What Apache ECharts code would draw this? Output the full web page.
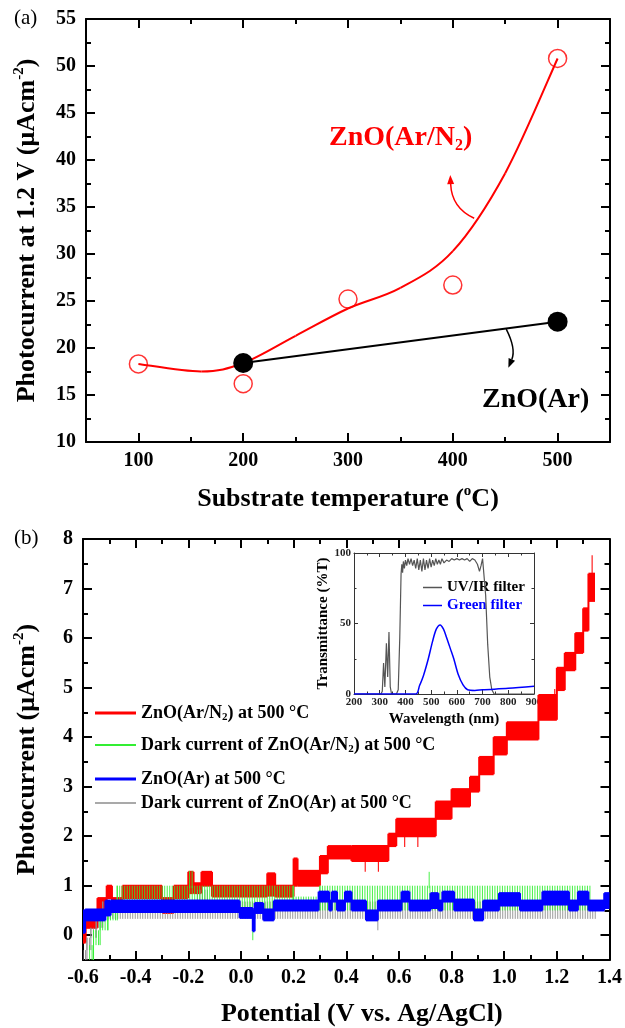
<!DOCTYPE html>
<html>
<head>
<meta charset="utf-8">
<script src="https://cdn.jsdelivr.net/npm/echarts@6/dist/echarts.min.js"></script>
<style>
  html, body { margin: 0; padding: 0; background: #fff; }
  #main { width: 625px; height: 1028px; }
</style>
</head>
<body>
<div id="main"></div>
<script>
// ---- (a) photocurrent at 1.2 V vs substrate temperature ----
const tempArN2 = [100, 200, 300, 400, 500];
const currArN2 = [18.3, 16.2, 25.2, 26.7, 50.8];
const tempAr = [200, 500];
const currAr = [18.4, 22.8];
// red fitted curve
const fitTemp = [100, 160, 200, 250, 300, 350, 400, 450, 500];
const fitCurr = [18.3, 17.5, 18.4, 21.3, 24.2, 26.4, 30.3, 38.6, 50.8];
// annotation arrows: [x0, y0, ctrlX, ctrlY, x1, y1] in data units
const arrowPaths = [
  [420.4, 33.8, 398.9, 34.9, 397.6, 38.4],
  [451.0, 22.0, 460.5, 19.9, 453.0, 17.9]
];

// ---- (b) photocurrent vs potential ----
// each band: [V from, V to, low, high] - the trace flickers between low and high
const redBands = [
  [-0.600, -0.590, -0.15, 0.25],
  [-0.590, -0.545, 0.15, 0.40],
  [-0.545, -0.510, 0.50, 0.75],
  [-0.510, -0.490, 0.75, 1.00],
  [-0.490, -0.450, 0.50, 0.75],
  [-0.450, -0.300, 0.75, 1.00],
  [-0.300, -0.255, 0.45, 0.75],
  [-0.255, -0.200, 0.75, 1.00],
  [-0.200, -0.180, 0.85, 1.28],
  [-0.180, -0.150, 0.85, 1.05],
  [-0.150, -0.110, 1.00, 1.28],
  [-0.110, 0.100, 0.78, 1.00],
  [0.100, 0.130, 0.80, 1.25],
  [0.130, 0.200, 0.78, 1.00],
  [0.200, 0.215, 1.00, 1.55],
  [0.215, 0.300, 1.00, 1.30],
  [0.300, 0.330, 1.25, 1.60],
  [0.330, 0.420, 1.55, 1.80],
  [0.420, 0.560, 1.50, 1.80],
  [0.560, 0.590, 1.80, 2.05],
  [0.590, 0.740, 2.00, 2.35],
  [0.740, 0.800, 2.35, 2.70],
  [0.800, 0.870, 2.60, 2.95],
  [0.870, 0.905, 2.90, 3.20],
  [0.905, 0.960, 3.25, 3.60],
  [0.960, 1.010, 3.65, 4.00],
  [1.010, 1.130, 3.95, 4.30],
  [1.130, 1.200, 4.35, 4.85],
  [1.200, 1.230, 4.95, 5.40],
  [1.230, 1.270, 5.35, 5.70],
  [1.270, 1.300, 5.70, 6.10],
  [1.300, 1.320, 6.15, 6.60],
  [1.320, 1.345, 6.75, 7.30],
  [0.470, 0.474, 1.30, 1.55],
  [0.520, 0.524, 1.30, 1.55],
  [0.620, 0.624, 1.80, 2.05],
  [0.670, 0.674, 1.80, 2.05],
  [1.190, 1.194, 4.50, 4.95],
  [1.332, 1.336, 7.00, 7.65]
];
const greenBands = [
  [-0.575, -0.560, -0.50, -0.20],
  [-0.560, -0.535, -0.20, 0.10],
  [-0.535, -0.505, 0.10, 0.35],
  [-0.505, -0.470, 0.30, 0.55],
  [-0.470, 0.200, 0.50, 1.00],
  [0.200, 0.300, 0.50, 0.78],
  [0.300, 1.330, 0.50, 1.00],
  [-0.195, -0.180, 0.95, 1.30],
  [0.045, 0.050, -0.10, 0.50],
  [0.715, 0.722, 0.95, 1.28]
];
const blueBands = [
  [-0.600, -0.592, 0.05, 0.50],
  [-0.592, -0.515, 0.30, 0.52],
  [-0.515, -0.495, 0.40, 0.70],
  [-0.495, -0.005, 0.47, 0.70],
  [-0.005, 0.045, 0.35, 0.55],
  [0.045, 0.052, 0.08, 0.50],
  [0.052, 0.085, 0.45, 0.65],
  [0.085, 0.125, 0.30, 0.52],
  [0.125, 0.295, 0.50, 0.70],
  [0.295, 0.335, 0.68, 0.88],
  [0.335, 0.345, 0.50, 0.70],
  [0.345, 0.365, 0.68, 0.88],
  [0.365, 0.395, 0.50, 0.70],
  [0.395, 0.420, 0.68, 0.88],
  [0.420, 0.475, 0.50, 0.70],
  [0.475, 0.520, 0.30, 0.50],
  [0.520, 0.610, 0.50, 0.70],
  [0.610, 0.640, 0.68, 0.88],
  [0.640, 0.720, 0.50, 0.70],
  [0.720, 0.750, 0.55, 0.85],
  [0.750, 0.765, 0.50, 0.70],
  [0.765, 0.810, 0.68, 0.88],
  [0.810, 0.885, 0.50, 0.72],
  [0.885, 0.920, 0.30, 0.52],
  [0.920, 0.980, 0.50, 0.70],
  [0.980, 1.060, 0.60, 0.85],
  [1.060, 1.145, 0.50, 0.70],
  [1.145, 1.246, 0.62, 0.88],
  [1.246, 1.280, 0.50, 0.70],
  [1.280, 1.320, 0.62, 0.88],
  [1.320, 1.380, 0.50, 0.70],
  [1.380, 1.400, 0.55, 0.85]
];
const grayBands = [
  [-0.600, -0.585, -0.50, -0.30],
  [-0.585, -0.570, -0.30, -0.05],
  [-0.570, -0.550, -0.05, 0.15],
  [-0.550, -0.525, 0.15, 0.35],
  [-0.525, 1.350, 0.33, 0.68],
  [-0.165, -0.120, 0.60, 0.92],
  [0.520, 0.526, 0.10, 0.40]
];

// ---- inset: filter transmittance ----
const uvWave = [200, 305, 310, 315, 320, 326, 331, 336, 341, 346, 365, 372, 378, 383, 386, 389, 392, 396, 400, 405, 410, 416, 422, 428, 434, 440, 446, 452, 458, 464, 470, 476, 482, 488, 494, 500, 506, 512, 518, 524, 530, 536, 542, 550, 560, 570, 580, 590, 600, 610, 620, 630, 640, 650, 660, 670, 680, 688, 694, 700, 705, 712, 720, 728, 736, 745, 900];
const uvT = [0, 0, 2, 22, 5, 36, 12, 44, 5, 0, 0, 3, 40, 85, 92, 86, 94, 89, 95, 91, 96, 92, 96, 91, 95, 89, 96, 88, 95, 87, 96, 88, 95, 89, 96, 90, 95, 91, 96, 92, 95, 92, 96, 93, 95, 94, 96, 95, 96, 95, 96, 95, 96, 94, 96, 95, 92, 87, 91, 96, 95, 70, 35, 12, 3, 0, 0];
const greenWave = [200, 440, 455, 470, 489, 505, 520, 535, 548, 560, 575, 588, 605, 624, 642, 670, 700, 800, 900];
const greenT = [0, 0, 6, 13, 25, 37, 46, 49, 46, 40, 32, 25, 14, 6.4, 3, 2.5, 3, 4, 5.5];

const SERIF = '"Liberation Serif","Times New Roman",serif';
const tickFont = { fontFamily: SERIF, fontWeight: 'bold', fontSize: 20, color: '#000' };
const nameFont = {
  fontFamily: SERIF, fontWeight: 'bold', fontSize: 26, color: '#000',
  rich: {
    n: { fontFamily: SERIF, fontWeight: 'bold', fontSize: 26, lineHeight: 30 },
    sup: { fontFamily: SERIF, fontWeight: 'bold', fontSize: 15, lineHeight: 16, verticalAlign: 'top' }
  }
};

function axis(gridIndex, position, extra) {
  return Object.assign({
    type: 'value', gridIndex: gridIndex, position: position,
    axisLine: { show: true, onZero: false, lineStyle: { color: '#000', width: 2 } },
    axisTick: { show: true, inside: true, length: 9, lineStyle: { color: '#000', width: 2 } },
    axisLabel: { show: false },
    splitLine: { show: false }
  }, extra);
}
// overlay axis that only draws the short half-step ticks
function minorAxis(gridIndex, position, extra) {
  return axis(gridIndex, position, Object.assign({
    axisLine: { show: false, onZero: false },
    axisTick: { show: true, inside: true, length: 5, lineStyle: { color: '#000', width: 2 } }
  }, extra));
}
function insetAxis(position, extra) {
  return Object.assign({
    type: 'value', gridIndex: 2, position: position,
    axisLine: { show: true, onZero: false, lineStyle: { color: '#333', width: 1 } },
    axisTick: { show: true, inside: true, length: 4, lineStyle: { color: '#333', width: 1 } },
    minorTick: { show: true, splitNumber: 2, length: 2.5, lineStyle: { color: '#333', width: 1 } },
    axisLabel: { show: false },
    splitLine: { show: false }
  }, extra);
}

function bandSeries(name, bands, color, solid, z) {
  return {
    name: name, type: 'custom', xAxisIndex: 4, yAxisIndex: 2, z: z, clip: true,
    itemStyle: { color: color },
    encode: { x: [0, 1], y: [2, 3] },
    data: bands,
    renderItem: function (params, api) {
      const x0 = api.value(0), x1 = api.value(1), lo = api.value(2), hi = api.value(3);
      const a = api.coord([x0, hi]);
      const b = api.coord([x1, lo]);
      const w = Math.max(b[0] - a[0], 1);
      const kids = [];
      if (solid) {
        kids.push({ type: 'rect', shape: { x: a[0], y: a[1] - 1, width: w, height: b[1] - a[1] + 2 }, style: { fill: color } });
      } else {
        for (let x = a[0]; x <= a[0] + w + 0.01; x += 2.5) {
          kids.push({ type: 'line', shape: { x1: x, y1: a[1], x2: x, y2: b[1] }, style: { stroke: color, lineWidth: 0.9 } });
        }
      }
      const prev = bands.find(p => Math.abs(p[1] - x0) < 1e-9);
      if (prev) {
        const c0 = api.coord([x0, Math.max(prev[3], hi)]);
        const c1 = api.coord([x0, Math.min(prev[2], lo)]);
        kids.push({ type: 'line', shape: { x1: c0[0], y1: c0[1], x2: c1[0], y2: c1[1] }, style: { stroke: color, lineWidth: solid ? 2 : 1 } });
      }
      return { type: 'group', children: kids };
    }
  };
}

const legendNames = {
  ArN2: '{t|ZnO(Ar/N}{sub|2}{t|) at 500 °C}',
  ArN2dark: '{t|Dark current of ZnO(Ar/N}{sub|2}{t|) at 500 °C}',
  Ar: '{t|ZnO(Ar) at 500 °C}',
  Ardark: '{t|Dark current of ZnO(Ar) at 500 °C}'
};
const legendText = {
  fontFamily: SERIF, fontWeight: 'bold', fontSize: 18, color: '#000', lineHeight: 20,
  rich: {
    t: { fontFamily: SERIF, fontWeight: 'bold', fontSize: 18, lineHeight: 20 },
    sub: { fontFamily: SERIF, fontWeight: 'bold', fontSize: 11, lineHeight: 12, verticalAlign: 'bottom' }
  }
};
function mainLegend(name, top, h) {
  return {
    data: [name], left: 95, top: top, padding: 0, icon: 'rect',
    itemWidth: 41, itemHeight: h, textStyle: legendText,
    formatter: n => legendNames[n], selectedMode: false
  };
}

const chart = echarts.init(document.getElementById('main'), null, { renderer: 'canvas' });
const option = {
  animation: false,
  backgroundColor: '#fff',
  grid: [
    { left: 86, top: 19, width: 524, height: 423 },
    { left: 83, top: 539, width: 528, height: 424 },
    { left: 354, top: 553, width: 180, height: 141 }
  ],
  xAxis: [
    axis(0, 'bottom', {
      min: 50, max: 550, minInterval: 100, maxInterval: 100,
      axisLabel: Object.assign({ show: true, margin: 9, showMinLabel: false, showMaxLabel: false }, tickFont),
      name: '{n|Substrate temperature (}{sup|o}{n|C)}', nameLocation: 'middle', nameGap: 42, nameTextStyle: nameFont
    }),
    minorAxis(0, 'bottom', { min: 50, max: 550, interval: 50 }),
    axis(0, 'top', { min: 50, max: 550, minInterval: 100, maxInterval: 100 }),
    minorAxis(0, 'top', { min: 50, max: 550, interval: 50 }),
    axis(1, 'bottom', {
      min: -0.6, max: 1.4, interval: 0.2,
      minorTick: { show: true, splitNumber: 2, length: 5, lineStyle: { color: '#000', width: 2 } },
      axisLabel: Object.assign({ show: true, margin: 8, formatter: v => (Math.abs(v) < 1e-9 ? '0.0' : v.toFixed(1)) }, tickFont),
      name: 'Potential (V vs. Ag/AgCl)', nameLocation: 'middle', nameGap: 41,
      nameTextStyle: { fontFamily: SERIF, fontWeight: 'bold', fontSize: 26, color: '#000', padding: [0, 0, 0, 31] }
    }),
    axis(1, 'top', {
      min: -0.6, max: 1.4, interval: 0.2,
      minorTick: { show: true, splitNumber: 2, length: 5, lineStyle: { color: '#000', width: 2 } }
    }),
    insetAxis('bottom', {
      min: 200, max: 900, interval: 100,
      axisLabel: { show: true, margin: 3, fontFamily: SERIF, fontWeight: 'bold', fontSize: 11, color: '#222' },
      name: 'Wavelength (nm)', nameLocation: 'middle', nameGap: 18,
      nameTextStyle: { fontFamily: SERIF, fontWeight: 'bold', fontSize: 15, color: '#000' }
    }),
    insetAxis('top', { min: 200, max: 900, interval: 100 })
  ],
  yAxis: [
    axis(0, 'left', {
      min: 10, max: 55, interval: 5,
      minorTick: { show: true, splitNumber: 2, length: 5, lineStyle: { color: '#000', width: 2 } },
      axisLabel: Object.assign({ show: true, margin: 10 }, tickFont),
      name: '{n|Photocurrent at 1.2 V (μAcm}{sup|-2}{n|)}', nameLocation: 'middle', nameGap: 44, nameTextStyle: nameFont
    }),
    axis(0, 'right', {
      min: 10, max: 55, interval: 5,
      minorTick: { show: true, splitNumber: 2, length: 5, lineStyle: { color: '#000', width: 2 } }
    }),
    axis(1, 'left', {
      min: -0.5, max: 8, minInterval: 1, maxInterval: 1,
      axisLabel: Object.assign({ show: true, margin: 10, showMinLabel: false }, tickFont),
      name: '{n|Photocurrent (μAcm}{sup|-2}{n|)}', nameLocation: 'middle', nameGap: 41, nameTextStyle: nameFont
    }),
    minorAxis(1, 'left', { min: -0.5, max: 8, interval: 0.5 }),
    axis(1, 'right', { min: -0.5, max: 8, minInterval: 1, maxInterval: 1 }),
    minorAxis(1, 'right', { min: -0.5, max: 8, interval: 0.5 }),
    insetAxis('left', {
      min: 0, max: 100, interval: 50,
      axisLabel: { show: true, margin: 3, fontFamily: SERIF, fontWeight: 'bold', fontSize: 11, color: '#222' },
      name: 'Transmittance (%T)', nameLocation: 'middle', nameGap: 20,
      nameTextStyle: { fontFamily: SERIF, fontWeight: 'bold', fontSize: 15, color: '#000' }
    }),
    insetAxis('right', { min: 0, max: 100, interval: 50 })
  ],
  legend: [
    mainLegend('ArN2', 703, 3),
    mainLegend('ArN2dark', 735, 2),
    mainLegend('Ar', 769, 3),
    mainLegend('Ardark', 793, 1.5),
    {
      data: [
        { name: 'UV/IR filter', textStyle: { color: '#000' } },
        { name: 'Green filter', textStyle: { color: '#0000ff' } }
      ],
      orient: 'vertical', left: 423, top: 579, padding: 0, itemGap: 1,
      icon: 'rect', itemWidth: 19, itemHeight: 1.5, selectedMode: false,
      textStyle: { fontFamily: SERIF, fontWeight: 'bold', fontSize: 15, lineHeight: 17 }
    }
  ],
  graphic: [
    { type: 'text', left: 14, top: 8, style: { text: '(a)', font: '21px ' + SERIF, fill: '#000' } },
    { type: 'text', left: 14, top: 528, style: { text: '(b)', font: '21px ' + SERIF, fill: '#000' } },
    {
      type: 'text', left: 329, top: 124,
      style: {
        text: '{n|ZnO(Ar/N}{s|2}{n|)}', fill: '#ff0000',
        rich: {
          n: { fontFamily: SERIF, fontWeight: 'bold', fontSize: 28, lineHeight: 32, fill: '#ff0000' },
          s: { fontFamily: SERIF, fontWeight: 'bold', fontSize: 16, lineHeight: 16, verticalAlign: 'bottom', fill: '#ff0000' }
        }
      }
    },
    { type: 'text', left: 482, top: 386, style: { text: 'ZnO(Ar)', font: 'bold 28px ' + SERIF, fill: '#000' } }
  ],
  series: [
    {
      // fitted curve: one cubic segment per point pair (Catmull-Rom tangents)
      type: 'custom', xAxisIndex: 0, yAxisIndex: 0, z: 2, silent: true,
      data: fitTemp.map((t, i) => [t, fitCurr[i]]),
      renderItem: function (params, api) {
        const i = params.dataIndex;
        const n = fitTemp.length;
        if (i >= n - 1) return null;
        const P = k => api.coord([fitTemp[Math.max(0, Math.min(n - 1, k))], fitCurr[Math.max(0, Math.min(n - 1, k))]]);
        const p0 = P(i - 1), p1 = P(i), p2 = P(i + 1), p3 = P(i + 2);
        return {
          type: 'bezierCurve',
          shape: {
            x1: p1[0], y1: p1[1], x2: p2[0], y2: p2[1],
            cpx1: p1[0] + (p2[0] - p0[0]) / 6, cpy1: p1[1] + (p2[1] - p0[1]) / 6,
            cpx2: p2[0] - (p3[0] - p1[0]) / 6, cpy2: p2[1] - (p3[1] - p1[1]) / 6
          },
          style: { stroke: '#ff0000', lineWidth: 2, fill: null }
        };
      }
    },
    {
      type: 'line', xAxisIndex: 0, yAxisIndex: 0, z: 3,
      data: tempAr.map((t, i) => [t, currAr[i]]),
      symbol: 'circle', symbolSize: 20,
      lineStyle: { color: '#000', width: 2 }, itemStyle: { color: '#000' }
    },
    {
      type: 'scatter', xAxisIndex: 0, yAxisIndex: 0, z: 4,
      data: tempArN2.map((t, i) => [t, currArN2[i]]),
      symbol: 'circle', symbolSize: 18,
      itemStyle: { color: 'rgba(0,0,0,0)', borderColor: '#ff0000', borderWidth: 1.5 }
    },
    {
      type: 'custom', xAxisIndex: 0, yAxisIndex: 0, z: 5, silent: true,
      data: arrowPaths,
      renderItem: function (params, api) {
        const color = params.dataIndex === 0 ? '#ff0000' : '#000';
        const s = api.coord([api.value(0), api.value(1)]);
        const c = api.coord([api.value(2), api.value(3)]);
        const e = api.coord([api.value(4), api.value(5)]);
        const ang = Math.atan2(e[1] - c[1], e[0] - c[0]);
        const L = 9, W = 3.5;
        const bx = e[0] - L * Math.cos(ang), by = e[1] - L * Math.sin(ang);
        return {
          type: 'group', children: [
            { type: 'bezierCurve', shape: { x1: s[0], y1: s[1], cpx1: c[0], cpy1: c[1], x2: bx, y2: by }, style: { stroke: color, lineWidth: 1.5, fill: null } },
            { type: 'polygon', shape: { points: [e, [bx - W * Math.sin(ang), by + W * Math.cos(ang)], [bx + W * Math.sin(ang), by - W * Math.cos(ang)]] }, style: { fill: color } }
          ]
        };
      }
    },
    bandSeries('ArN2', redBands, '#ff0000', true, 2),
    bandSeries('Ardark', grayBands, '#8c8c8c', false, 3),
    bandSeries('ArN2dark', greenBands, '#33ee33', false, 4),
    bandSeries('Ar', blueBands, '#0000ff', true, 5),
    {
      name: 'UV/IR filter', type: 'line', xAxisIndex: 6, yAxisIndex: 6, z: 6,
      data: uvWave.map((w, i) => [w, uvT[i]]),
      showSymbol: false, lineStyle: { color: '#555', width: 1.2 }, itemStyle: { color: '#555' }
    },
    {
      name: 'Green filter', type: 'line', xAxisIndex: 6, yAxisIndex: 6, z: 6,
      data: greenWave.map((w, i) => [w, greenT[i]]),
      smooth: 0.3, showSymbol: false, lineStyle: { color: '#0000ff', width: 1.5 }, itemStyle: { color: '#0000ff' }
    }
  ]
};
chart.setOption(option);
</script>
</body>
</html>
